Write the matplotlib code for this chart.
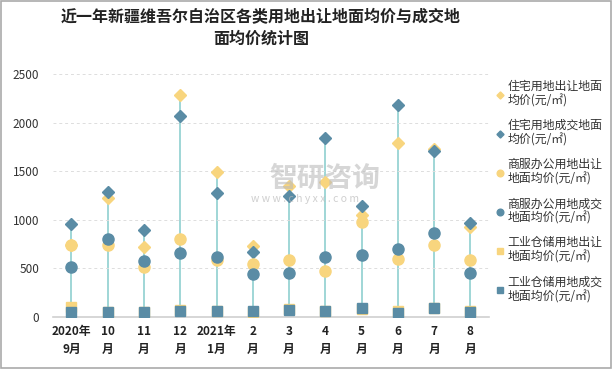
import numpy as np
import matplotlib.pyplot as plt
from matplotlib.patches import Rectangle

plt.rcParams['font.family'] = ['Noto Sans CJK SC', 'DejaVu Sans']

months = ['2020年\n9月', '10\n月', '11\n月', '12\n月', '2021年\n1月', '2\n月',
          '3\n月', '4\n月', '5\n月', '6\n月', '7\n月', '8\n月']

# 住宅用地
res_sell = [740, 1227, 722, 2286, 1495, 729, 1351, 1385, 1048, 1787, 1726, 928]
res_deal = [950, 1289, 894, 2069, 1279, 670, 1248, 1842, 1145, 2186, 1708, 969]
# 商服办公用地
com_sell = [736, 739, 516, 798, 585, 543, 581, 468, 973, 598, 739, 581]
com_deal = [516, 798, 571, 653, 619, 437, 447, 612, 633, 695, 860, 447]
# 工业仓储用地
ind_sell = [97, 50, 50, 70, 55, 45, 75, 60, 80, 60, 85, 60]
ind_deal = [52, 52, 52, 62, 62, 59, 69, 62, 90, 41, 90, 52]

labels = ['住宅用地出让地面\n均价(元/㎡)', '住宅用地成交地面\n均价(元/㎡)',
          '商服办公用地出让\n地面均价(元/㎡)', '商服办公用地成交\n地面均价(元/㎡)',
          '工业仓储用地出让\n地面均价(元/㎡)', '工业仓储用地成交\n地面均价(元/㎡)']

yellow = '#F8D57E'
blue = '#5A8CA5'
stem = '#8FCFD0'

fig = plt.figure(figsize=(6.13, 3.69), dpi=100)
ax = fig.add_axes([0.087, 0.142, 0.71, 0.657])

x = np.arange(len(months))
allv = np.array([res_sell, res_deal, com_sell, com_deal, ind_sell, ind_deal])
ax.vlines(x, allv.min(axis=0), allv.max(axis=0), color=stem, lw=1.2, zorder=1)

series = [(res_sell, 'D', yellow, 6), (res_deal, 'D', blue, 6),
          (com_sell, 'o', yellow, 8), (com_deal, 'o', blue, 8),
          (ind_sell, 's', yellow, 7.5), (ind_deal, 's', blue, 7.5)]
for (vals, m, c, s), lab in zip(series, labels):
    ax.plot(x, vals, ls='none', marker=m, color=c, ms=s, mec=c, label=lab, zorder=3)

ax.set_xlim(-0.5, len(months) - 0.5)
ax.set_ylim(0, 2500)
ax.set_yticks(range(0, 2501, 500))
ax.set_xticks(x)
ax.set_xticklabels(months, fontsize=8.5, fontweight='bold', color='#222222', linespacing=1.5)
ax.tick_params(axis='y', labelsize=8.5, colors='#333333', length=0, pad=10)
ax.tick_params(axis='x', length=0, pad=6)
ax.grid(axis='y', color='#dddddd', ls=(0, (3, 3)), lw=0.7)
for sp in ['top', 'right', 'left']:
    ax.spines[sp].set_visible(False)
ax.spines['bottom'].set_color('#d0d0d0')
ax.spines['bottom'].set_linewidth(1.2)

# 图例
handles, labs = ax.get_legend_handles_labels()
leg = fig.legend(handles, labs, loc='upper left', bbox_to_anchor=(0.806, 0.79),
                 frameon=False, fontsize=8.6, labelspacing=0.95, handlelength=0.6,
                 handletextpad=0.3, markerscale=0.6, borderpad=0.2, borderaxespad=0)
for t in leg.get_texts():
    t.set_color('#333333')
    t.set_linespacing(1.15)

fig.suptitle('近一年新疆维吾尔自治区各类用地出让地面均价与成交地\n面均价统计图',
             x=0.426, y=0.975, fontsize=11.5, fontweight='bold', color='#222222',
             linespacing=1.45)

# 水印
fig.text(0.53, 0.515, '智研咨询', fontsize=20, color='#bbbbbb', alpha=0.6,
         ha='center', va='center', fontweight='bold')
fig.text(0.497, 0.462, 'w w w . c h y x x . c o m', fontsize=7.5, color='#bbbbbb',
         alpha=0.7, ha='center', va='center')

fig.patches.append(Rectangle((0.002, 0.003), 0.995, 0.993, transform=fig.transFigure,
                             fill=False, ec='#aaaaaa', lw=1.2))

fig.savefig('out.png', dpi=100)
